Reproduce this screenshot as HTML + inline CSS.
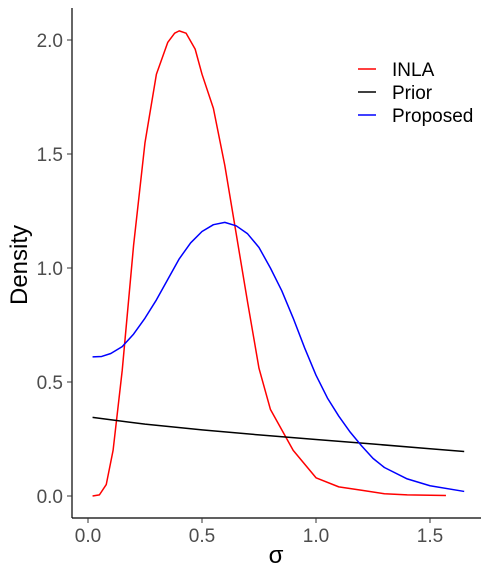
<!DOCTYPE html>
<html><head><meta charset="utf-8"><style>
body{margin:0;background:#fff}
svg text{font-family:"Liberation Sans",sans-serif}
</style></head><body>
<svg id="chart" width="489" height="576" xmlns="http://www.w3.org/2000/svg">
<g id="axes"></g><g id="series"></g><g id="legend"></g>
</svg>
<script>
const xTicks=[0.0,0.5,1.0,1.5];
const xTickLabels=["0.0","0.5","1.0","1.5"];
const yTicks=[0,0.5,1,1.5,2];
const yTickLabels=["0.0","0.5","1.0","1.5","2.0"];
const inlaX=[0.02,0.05,0.08,0.11,0.15,0.2,0.25,0.3,0.35,0.38,0.4,0.43,0.47,0.5,0.55,0.6,0.65,0.7,0.75,0.8,0.9,1.0,1.1,1.2,1.3,1.4,1.57];
const inlaY=[0,0.005,0.05,0.2,0.55,1.1,1.55,1.85,1.99,2.03,2.04,2.03,1.96,1.85,1.7,1.45,1.15,0.85,0.56,0.38,0.2,0.08,0.04,0.025,0.01,0.005,0.002];
const priorX=[0.02,0.25,0.5,0.75,1.0,1.25,1.5,1.65];
const priorY=[0.345,0.315,0.29,0.268,0.248,0.228,0.207,0.195];
const propX=[0.02,0.06,0.1,0.15,0.2,0.25,0.3,0.35,0.4,0.45,0.5,0.55,0.6,0.65,0.7,0.75,0.8,0.85,0.9,0.95,1.0,1.05,1.1,1.15,1.2,1.25,1.3,1.4,1.5,1.65];
const propY=[0.61,0.612,0.625,0.655,0.71,0.78,0.86,0.95,1.04,1.11,1.16,1.19,1.2,1.185,1.15,1.09,1.0,0.9,0.78,0.65,0.53,0.43,0.35,0.28,0.22,0.165,0.125,0.075,0.045,0.02];
const seriesNames=["INLA","Prior","Proposed"];
const colors=["#ff0000","#000000","#0000ff"];
const NS="http://www.w3.org/2000/svg";
const sx=v=>88+v*228, sy=v=>496-v*228;
function mk(tag,attrs,parent){const e=document.createElementNS(NS,tag);for(const k in attrs)e.setAttribute(k,attrs[k]);parent.appendChild(e);return e;}
const axes=document.getElementById('axes');
let e=mk('line',{x1:72,y1:8,x2:72,y2:518,stroke:'#000','stroke-width':1.2},axes);

e=mk('line',{x1:72,y1:518,x2:481,y2:518,stroke:'#000','stroke-width':1.2},axes);

xTicks.forEach((v,i)=>{
 let t=mk('line',{x1:sx(v),y1:518,x2:sx(v),y2:523,stroke:'#333'},axes);
 
 let l=mk('text',{x:sx(v),y:542,'text-anchor':'middle','font-size':19,fill:'#4d4d4d'},axes);l.textContent=xTickLabels[i];
 
});
yTicks.forEach((v,i)=>{
 let t=mk('line',{x1:67,y1:sy(v),x2:72,y2:sy(v),stroke:'#333'},axes);
 
 let l=mk('text',{x:63,y:sy(v)+7,'text-anchor':'end','font-size':19,fill:'#4d4d4d'},axes);l.textContent=yTickLabels[i];
 
});
e=mk('text',{x:276,y:563,'text-anchor':'middle','font-size':24,'font-family':'Liberation Serif'},axes);e.textContent='σ';

e=mk('text',{x:0,y:0,'text-anchor':'middle','font-size':24,transform:'translate(27,265) rotate(-90)'},axes);e.textContent='Density';

const ser=document.getElementById('series');
[[inlaX,inlaY],[priorX,priorY],[propX,propY]].forEach((d,i)=>{
 const p=mk('polyline',{points:d[0].map((x,j)=>sx(x)+','+sy(d[1][j])).join(' '),fill:'none',stroke:colors[i],'stroke-width':1.5,'stroke-linejoin':'round'},ser);
 
});
const lg=document.getElementById('legend');
seriesNames.forEach((n,i)=>{
 const y=69+i*23;
 let l=mk('line',{x1:358,y1:y,x2:376,y2:y,stroke:colors[i],'stroke-width':1.5},lg);
 
 let t=mk('text',{x:392,y:y+7,'font-size':19},lg);t.textContent=n;
 
});
</script>
</body></html>
